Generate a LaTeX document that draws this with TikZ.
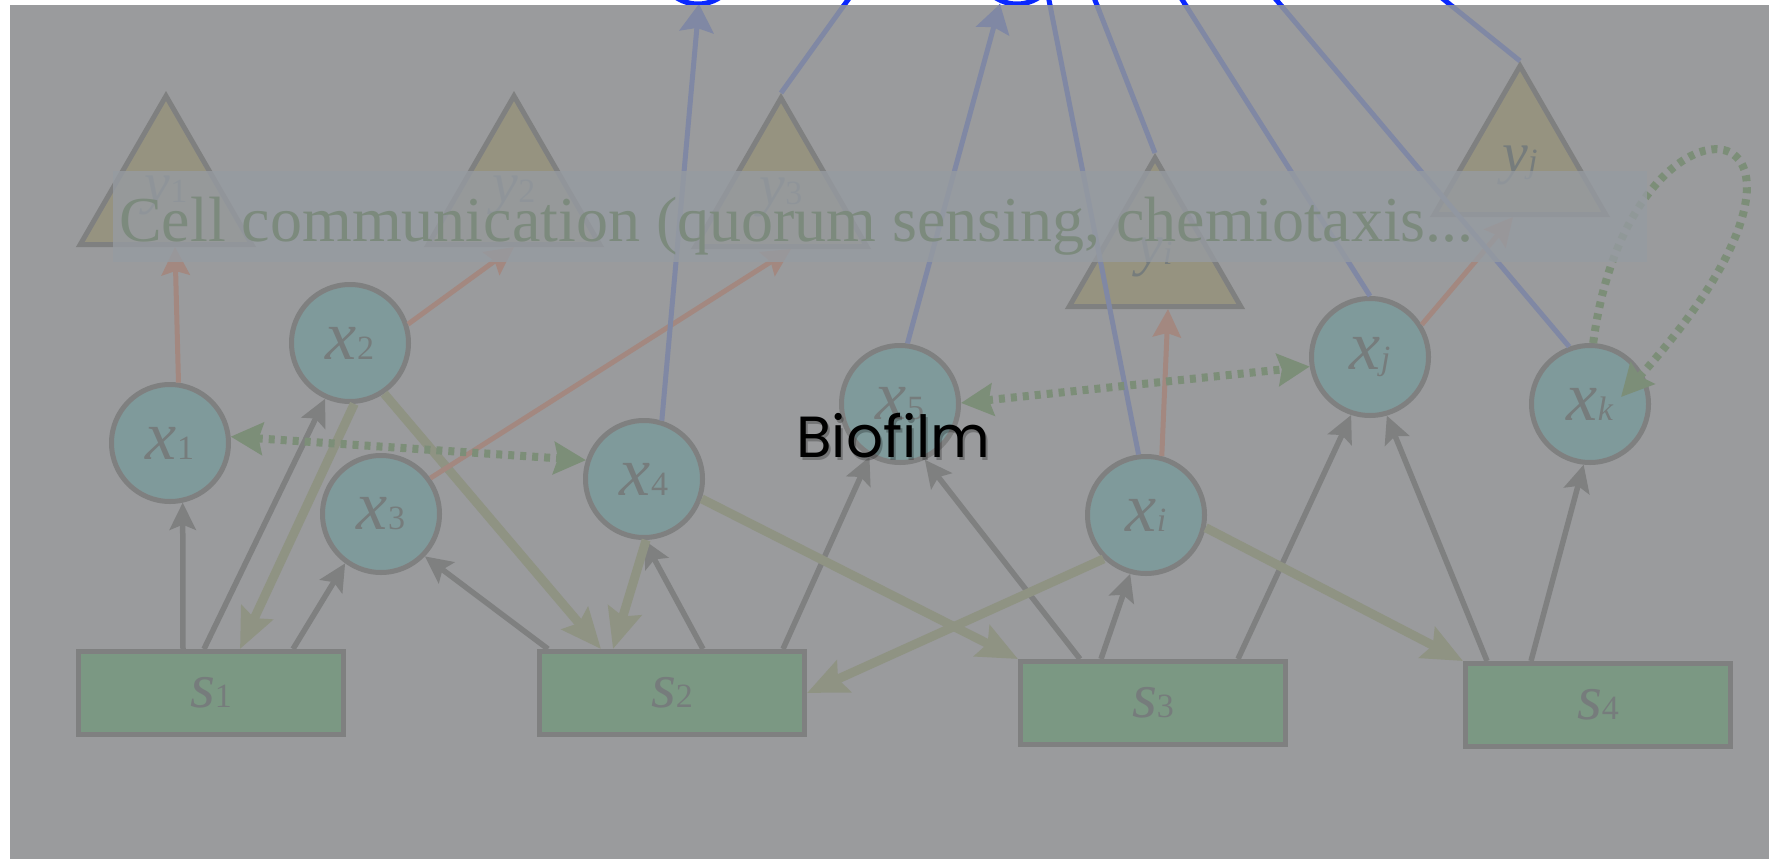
\documentclass[tikz,border=0pt]{standalone}
\usepackage{fontspec}
\setmainfont{Liberation Serif}
\newfontfamily\bioface{Poppins}
\usetikzlibrary{arrows.meta,shapes.geometric}
\definecolor{veil}{HTML}{9A9B9D}
\definecolor{rim}{HTML}{7F8080}
\definecolor{cellc}{HTML}{7F9A9B}
\definecolor{subc}{HTML}{7B9883}
\definecolor{prodc}{HTML}{969380}
\definecolor{labc}{HTML}{767C7C}
\definecolor{khaki}{HTML}{8F9383}
\definecolor{rust}{HTML}{A38880}
\definecolor{dusk}{HTML}{8088A4}
\definecolor{vivid}{HTML}{0A28FF}
\definecolor{talk}{HTML}{7C8E78}
\definecolor{band}{HTML}{969BA1}
\definecolor{bandtext}{HTML}{7C8A7D}
\newcommand{\var}[2]{\textit{#1}{\fontsize{34}{34}\selectfont #2}}
\tikzset{cellnode/.style={circle,draw=rim,line width=5pt,fill=cellc,minimum size=117pt,inner sep=0pt,text=labc,font=\fontsize{70}{70}\selectfont},
subnode/.style={rectangle,draw=rim,line width=5pt,fill=subc,minimum width=265pt,minimum height=83pt,inner sep=0pt,text=labc,font=\fontsize{64}{64}\selectfont},
prodnode/.style={regular polygon,regular polygon sides=3,draw=rim,line width=5pt,fill=prodc,minimum size=198pt,inner sep=0pt,text=labc,font=\fontsize{58}{58}\selectfont},
feedarr/.style={-{Stealth[length=27pt,width=26pt,inset=5pt]},line width=5.5pt,rim},
backarr/.style={-{Stealth[length=40pt,width=34pt,inset=6pt]},line width=9pt,khaki},
prodarr/.style={-{Stealth[length=28pt,width=28pt,inset=4pt]},line width=5pt,rust},
extline/.style={line width=5pt,dusk},
exttip/.style={-{Stealth[length=28pt,width=34pt,inset=4pt]}},
talkarr/.style={{Stealth[length=32pt,width=32pt,inset=4pt]}-{Stealth[length=32pt,width=32pt,inset=4pt]},line width=8pt,talk,dash pattern=on 6pt off 6pt},
talkloop/.style={talkarr,-{Stealth[length=32pt,width=32pt,inset=4pt]}}}
% links to the environment, drawn twice (under and above the veil)
\newcommand{\envlinks}[1]{%
\draw[#1,exttip] (x4.73) -- (e1);
\draw[#1] (y3.corner 1) -- (e2);
\draw[#1,exttip] (x5.83) -- (e3);
\draw[#1] (xi.97) -- (e4);
\draw[#1] (yi.corner 1) -- (e5);
\draw[#1] (xj.90) -- (e6);
\draw[#1] (xk.110) -- (e7);
\draw[#1] (yj.corner 1) -- (e8);}

\begin{document}
\begin{tikzpicture}[x=1pt,y=-1pt]
\useasboundingbox (0,0) rectangle (1769,859);
\fill[white] (0,0) rectangle (1769,859);
\fill[veil] (10,5) rectangle (1769,859);
% products
\node[prodnode] (y1) at (166,195) {\var{y}{1}};
\node[prodnode] (y2) at (514,195) {\var{y}{2}};
\node[prodnode] (y3) at (781,197) {\var{y}{3}};
\node[prodnode] (yi) at (1155,257) {\var{y}{\textit{i}}};
\node[prodnode] (yj) at (1520,165) {\var{y}{\textit{j}}};
% cells
\node[cellnode] (x1) at (170,443) {\var{x}{1}};
\node[cellnode] (x2) at (350,343) {\var{x}{2}};
\node[cellnode] (x3) at (381,514) {\var{x}{3}};
\node[cellnode] (x4) at (644,479) {\var{x}{4}};
\node[cellnode] (x5) at (900,404) {\var{x}{5}};
\node[cellnode] (xi) at (1146,515) {\var{x}{\textit{i}}};
\node[cellnode] (xj) at (1370,357) {\var{x}{\textit{j}}};
\node[cellnode] (xk) at (1590,404) {\var{x}{\textit{k}}};
% substrates
\node[subnode] (s1) at (211,693) {\var{s}{1}};
\node[subnode] (s2) at (672,693) {\var{s}{2}};
\node[subnode] (s3) at (1153,703) {\var{s}{3}};
\node[subnode] (s4) at (1598,705) {\var{s}{4}};
% uptake
\draw[feedarr] ([xshift=-28pt]s1.north) -- (x1.-78);
\draw[feedarr] ([xshift=-7pt]s1.north) -- (x2.-114);
\draw[feedarr] ([xshift=82pt]s1.north) -- (x3.-126);
\draw[feedarr] ([xshift=-124pt]s2.north) -- (x3.-44);
\draw[feedarr] ([xshift=31pt]s2.north) -- (x4.-90);
\draw[feedarr] ([xshift=111pt]s2.north) -- (x5.-120);
\draw[feedarr] ([xshift=-73pt]s3.north) -- (x5.-66);
\draw[feedarr] ([xshift=-52pt]s3.north) -- (xi.-105);
\draw[feedarr] ([xshift=85pt]s3.north) -- (xj.-108);
\draw[feedarr] ([xshift=-111pt]s4.north) -- (xj.-74);
\draw[feedarr] ([xshift=-67pt]s4.north) -- (xk.-96);
% release
\draw[backarr] (x2.-86) -- ([xshift=29pt]s1.north);
\draw[backarr] (x2.-56) -- ([xshift=-71pt]s2.north);
\draw[backarr] (x4.-88) -- ([xshift=-59pt]s2.north);
\draw[backarr] (x4.-19) -- (s3.north west);
\draw[backarr] (xi.-134) -- (s2.east);
\draw[backarr] (xi.-12) -- (s4.north west);
% production
\draw[prodarr] (x1.82) -- ([xshift=9pt]y1.south);
\draw[prodarr] (x2.18) -- (y2.south);
\draw[prodarr] (x3.36) -- ([xshift=10pt]y3.south);
\draw[prodarr] (xi.75) -- ([xshift=13pt]yi.south);
\draw[prodarr] (xj.32) -- ([xshift=-7pt]yj.south);
% environment
\coordinate (e1) at (699,4);\coordinate (e2) at (855,-10);\coordinate (e3) at (1000,4);
\coordinate (e4) at (1047,-10);\coordinate (e5) at (1091,-10);\coordinate (e6) at (1176,-10);
\coordinate (e7) at (1268,-10);\coordinate (e8) at (1432,-10);
\begin{scope}
\clip (0,5) rectangle (1769,859);
\envlinks{extline}
\end{scope}
\begin{scope}
\clip (0,0) rectangle (1769,5);
\envlinks{extline,vivid}
\draw[vivid,line width=5pt] (698,-36) circle[radius=40pt] (1017,-36) circle[radius=40pt];
\end{scope}
% communication
\coordinate (k1) at (1621,397);
\draw[talkarr] (x1.6) -- (x4.162);
\draw[talkarr] (x5.1) -- (xj.-171);
\draw[talkloop] (xk.87) .. controls (1630,60) and (1890,100) .. (k1);
\fill[band,fill opacity=0.8] (113,171) rectangle (1647,262);
\node[anchor=base west,text=bandtext,font=\fontsize{64}{64}\selectfont,inner sep=0pt] (cc) at (119,241) {Cell communication (quorum sensing, chemiotaxis...};
\node[anchor=base west,font=\bioface\fontsize{58}{58}\selectfont,inner sep=0pt,text=black,opacity=0.25] at (798,460) {Biofilm};
\node[anchor=base west,font=\bioface\fontsize{58}{58}\selectfont,inner sep=0pt] (bio) at (796,457) {Biofilm};
\end{tikzpicture}
\end{document}
